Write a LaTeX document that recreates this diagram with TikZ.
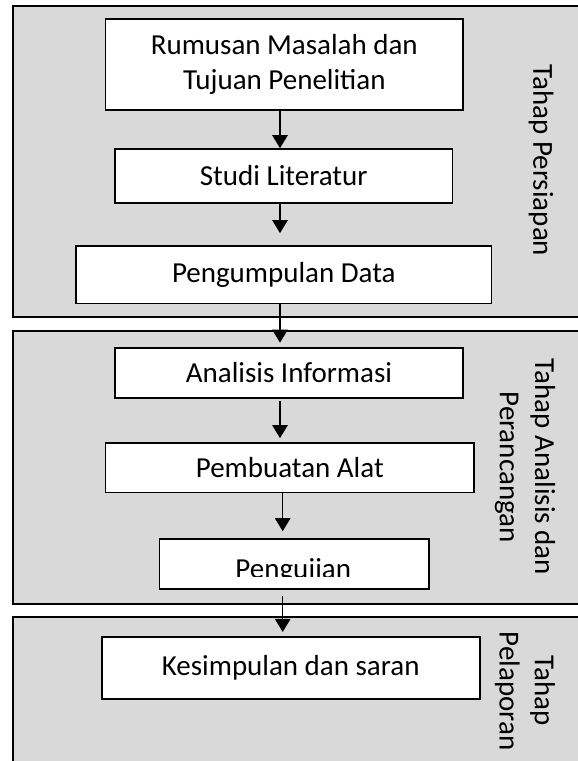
\documentclass[tikz,border=0pt]{standalone}
\usepackage{fontspec}
\setmainfont{Carlito}
\usetikzlibrary{arrows.meta,positioning}
\definecolor{abu}{RGB}{217,217,217}
\begin{document}
\begin{tikzpicture}[x=0.02cm,y=-0.02cm,font=\fontsize{16.5}{20}\selectfont,
  tahap/.style={draw,line width=1.15pt,fill=abu},
  box/.style={draw,line width=0.95pt,fill=white,align=center,inner sep=0pt},
  arr/.style={line width=0.6pt,-{Triangle[length=2.6mm,width=3.1mm]}},
  sisi/.style={rotate=-90,align=center,inner sep=0pt}]
\clip (0,0) rectangle (578,761);
\fill[white] (0,0) rectangle (578,761);
% tiga tahap
\draw[tahap] (12.7,6) rectangle (600,317.3);
\draw[tahap] (12.7,331.3) rectangle (600,604);
\draw[tahap] (12.7,616.7) rectangle (600,790);
% proses
\node[box,minimum width=7.16cm,minimum height=1.82cm] (b1) at (284.3,64.5) {Rumusan Masalah dan\\Tujuan Penelitian};
\node[box,minimum width=6.75cm,minimum height=1.08cm] (b2) at (283.7,176) {Studi Literatur};
\node[box,minimum width=8.31cm,minimum height=1.15cm] (b3) at (283.8,274.7) {Pengumpulan Data};
\node[box,minimum width=6.96cm,minimum height=1cm] (b4) at (289,373) {Analisis Informasi};
\node[box,minimum width=7.37cm,minimum height=0.99cm] (b5) at (289.8,467.7) {Pembuatan Alat};
\node[box,minimum width=5.39cm,minimum height=1cm] (b6) at (294.2,564) {};
\begin{scope}
\clip (159.3,539) rectangle (429,576.8);
\node[anchor=base] (t6) at (293.3,578.5) {Pengujian};
\end{scope}
\node[box,minimum width=7.56cm,minimum height=1.23cm] (b7) at (290.7,668) {Kesimpulan dan saran};
% label tahap
\node[sisi] (s1) at (541,160.5) {Tahap Persiapan};
\node[sisi] (s2) at (525,467) {Tahap Analisis dan\\Perancangan};
\node[sisi] (s3) at (525,691) {Tahap\\Pelaporan};
% panah
\coordinate (k1) at (280,0);
\coordinate (k2) at (282.7,0);
\draw[arr] (b1.south -| k1) -- (b2.north -| k1);
\draw[arr,shorten >=2.4mm] (b2.south -| k1) -- (b3.north -| k1);
\draw[arr,shorten >=0.9mm] (b3.south -| k1) -- (b4.north -| k1);
\draw[arr,shorten <=0.5mm,shorten >=0.8mm] (b4.south -| k1) -- (b5.north -| k1);
\draw[arr,shorten >=1.4mm] (b5.south -| k2) -- (b6.north -| k2);
\draw[arr,shorten <=1.2mm,shorten >=0.9mm] (b6.south -| k2) -- (b7.north -| k2);
\end{tikzpicture}
\end{document}
